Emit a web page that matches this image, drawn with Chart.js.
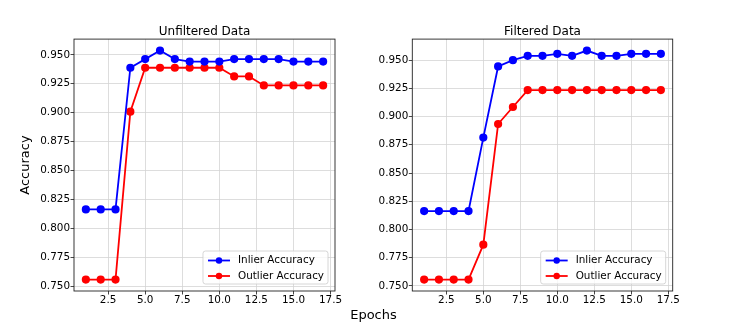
<!DOCTYPE html>
<html>
<head>
<meta charset="utf-8">
<script src="https://cdn.jsdelivr.net/npm/chart.js@4.4.1/dist/chart.umd.min.js"></script>
<style>
    body { margin: 0; background: #fff; }
    #wrap { position: relative; width: 747px; height: 327px; overflow: hidden; }
    canvas { position: absolute; top: 0; }
    #leftChart { left: 0; }
    #rightChart { left: 373px; }
    #xTitle {
        position: absolute; left: 0; width: 747px; top: 307px;
        text-align: center; font: 13px 'DejaVu Sans', sans-serif; line-height: 15px; color: #000;
    }
</style>
</head>
<body>
<div id="wrap">
    <canvas id="leftChart" width="373" height="327"></canvas>
    <canvas id="rightChart" width="374" height="327"></canvas>
    <div id="xTitle">Epochs</div>
</div>
<script>
// values
const epochs = [1, 2, 3, 4, 5, 6, 7, 8, 9, 10, 11, 12, 13, 14, 15, 16, 17];

const unfilteredInlier  = [0.8163, 0.8163, 0.8163, 0.9388, 0.9463, 0.9537, 0.9463, 0.9442, 0.9442, 0.9442, 0.9463, 0.9463, 0.9463, 0.9463, 0.9442, 0.9442, 0.9442];
const unfilteredOutlier = [0.7556, 0.7556, 0.7556, 0.9008, 0.9388, 0.9388, 0.9388, 0.9388, 0.9388, 0.9388, 0.9313, 0.9313, 0.9235, 0.9235, 0.9235, 0.9235, 0.9235];

const filteredInlier  = [0.8163, 0.8163, 0.8163, 0.8163, 0.8814, 0.9444, 0.9500, 0.9538, 0.9538, 0.9556, 0.9538, 0.9585, 0.9538, 0.9538, 0.9556, 0.9556, 0.9556];
const filteredOutlier = [0.7556, 0.7556, 0.7556, 0.7556, 0.7865, 0.8934, 0.9085, 0.9235, 0.9235, 0.9235, 0.9235, 0.9235, 0.9235, 0.9235, 0.9235, 0.9235, 0.9235];

const xTicks = [2.5, 5.0, 7.5, 10.0, 12.5, 15.0, 17.5];
const yTicks = [0.750, 0.775, 0.800, 0.825, 0.850, 0.875, 0.900, 0.925, 0.950];

const seriesNames = ['Inlier Accuracy', 'Outlier Accuracy'];
const seriesColors = ['#0000ff', '#ff0000'];

const FONT = "'DejaVu Sans', sans-serif";

function toPoints(ys) {
    return epochs.map((x, i) => ({ x, y: ys[i] }));
}

// matplotlib style 5% margins
function paddedRange(values) {
    const lo = Math.min(...values), hi = Math.max(...values);
    const pad = (hi - lo) * 0.05;
    return [lo - pad, hi + pad];
}

// frame on all four sides + legend box in lower right
const framePlugin = {
    id: 'frameAndLegend',
    afterDraw(chart) {
        const { ctx, chartArea: a } = chart;
        ctx.save();
        ctx.strokeStyle = '#222';
        ctx.lineWidth = 0.9;
        ctx.strokeRect(a.left, a.top, a.right - a.left, a.bottom - a.top);

        ctx.font = '10.4px ' + FONT;
        const labels = chart.data.datasets.map(d => d.label);
        const textW = Math.max(...labels.map(l => ctx.measureText(l).width));
        const w = 5 + 22 + 8 + textW + 4;
        const h = 33;
        const x0 = a.right - 7 - w, y0 = a.bottom - 7 - h;

        ctx.beginPath();
        ctx.roundRect(x0, y0, w, h, 2.5);
        ctx.fillStyle = 'rgba(255,255,255,0.8)';
        ctx.fill();
        ctx.strokeStyle = '#cccccc';
        ctx.lineWidth = 0.8;
        ctx.stroke();

        chart.data.datasets.forEach((ds, i) => {
            const cy = y0 + 9.5 + i * 15.5;
            ctx.strokeStyle = ds.borderColor;
            ctx.lineWidth = 1.8;
            ctx.beginPath();
            ctx.moveTo(x0 + 5, cy);
            ctx.lineTo(x0 + 27, cy);
            ctx.stroke();
            ctx.fillStyle = ds.borderColor;
            ctx.beginPath();
            ctx.arc(x0 + 16, cy, 3.2, 0, Math.PI * 2);
            ctx.fill();
            ctx.fillStyle = '#000';
            ctx.textBaseline = 'middle';
            ctx.textAlign = 'left';
            ctx.fillText(ds.label, x0 + 35, cy);
        });
        ctx.restore();
    }
};

function makeChart(canvasId, title, inlier, outlier, opts) {
    const [yMin, yMax] = paddedRange(inlier.concat(outlier));
    const gridStyle = {
        color: '#d4d4d4',
        lineWidth: 0.8,
        borderDash: [2.5, 1.5],
        tickColor: '#333',
        tickWidth: 0.9,
        tickLength: 3.5,
        tickBorderDash: []
    };

    return new Chart(document.getElementById(canvasId), {
        type: 'line',
        data: {
            datasets: [inlier, outlier].map((ys, i) => ({
                label: seriesNames[i],
                data: toPoints(ys),
                borderColor: seriesColors[i],
                backgroundColor: seriesColors[i],
                pointBackgroundColor: seriesColors[i],
                pointBorderColor: seriesColors[i],
                borderWidth: 1.8,
                pointRadius: 3.2,
                pointHoverRadius: 3.2,
                tension: 0,
                fill: false
            }))
        },
        options: {
            responsive: false,
            animation: false,
            devicePixelRatio: 1,
            layout: { padding: { left: 0, right: opts.padRight, top: 0, bottom: 0 } },
            plugins: {
                legend: { display: false },
                tooltip: { enabled: false },
                title: {
                    display: true,
                    fullSize: false,
                    text: title,
                    color: '#000',
                    font: { family: FONT, size: 12, weight: 'normal' },
                    padding: { top: 24.7, bottom: 0 }
                }
            },
            scales: {
                x: {
                    type: 'linear',
                    min: 0.2,
                    max: 17.8,
                    afterBuildTicks: axis => { axis.ticks = xTicks.map(v => ({ value: v })); },
                    afterFit: axis => { axis.height = 36; },
                    ticks: {
                        color: '#000',
                        font: { family: FONT, size: 10.4 },
                        padding: 0,
                        maxRotation: 0,
                        autoSkip: false,
                        callback: v => v.toFixed(1)
                    },
                    grid: gridStyle,
                    border: { display: false }
                },
                y: {
                    min: yMin,
                    max: yMax,
                    afterBuildTicks: axis => { axis.ticks = yTicks.map(v => ({ value: v })); },
                    afterFit: axis => { axis.width = opts.yWidth; },
                    ticks: {
                        color: '#000',
                        font: { family: FONT, size: 10.4 },
                        padding: 0.5,
                        autoSkip: false,
                        callback: v => v.toFixed(3)
                    },
                    title: {
                        display: !!opts.yTitle,
                        text: opts.yTitle || '',
                        color: '#000',
                        font: { family: FONT, size: 13 },
                        padding: { top: 17.9, bottom: 0 }
                    },
                    grid: gridStyle,
                    border: { display: false }
                }
            }
        },
        plugins: [framePlugin]
    });
}

makeChart('leftChart', 'Unfiltered Data', unfilteredInlier, unfilteredOutlier,
    { padRight: 38, yWidth: 74, yTitle: 'Accuracy' });
makeChart('rightChart', 'Filtered Data', filteredInlier, filteredOutlier,
    { padRight: 74.3, yWidth: 39.3 });
</script>
</body>
</html>
